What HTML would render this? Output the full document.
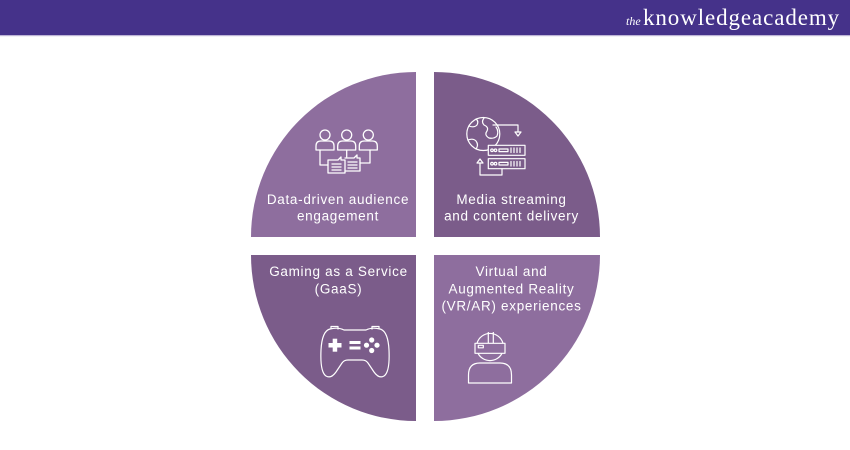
<!DOCTYPE html>
<html>
<head>
<meta charset="utf-8">
<style>
html,body{margin:0;padding:0;background:#fff;}
body{width:850px;height:450px;overflow:hidden;position:relative;font-family:"Liberation Sans",sans-serif;}
svg{position:absolute;left:0;top:0;}
</style>
</head>
<body>
<svg width="850" height="450" viewBox="0 0 850 450" xmlns="http://www.w3.org/2000/svg">
  <!-- header -->
  <rect x="0" y="0" width="850" height="35" fill="#45328a"/>
  <rect x="0" y="35" width="850" height="1.2" fill="#bdb4d6"/>
  <text x="626" y="25" font-family="Liberation Serif, serif" font-style="italic" font-size="12" fill="#fff">the</text>
  <text x="643" y="25" font-family="Liberation Serif, serif" font-size="23" letter-spacing="0.9" fill="#fff">knowledgeacademy</text>

  <!-- quadrants -->
  <path d="M416,237 L251,237 A165,165 0 0 1 416,72 Z" fill="#8e6e9e"/>
  <path d="M434,237 L434,72 A166,165 0 0 1 600,237 Z" fill="#7b5c8a"/>
  <path d="M416,255 L416,421 A165,166 0 0 1 251,255 Z" fill="#7b5c8a"/>
  <path d="M434,255 L600,255 A166,166 0 0 1 434,421 Z" fill="#8e6e9e"/>

  <!-- labels -->
  <g font-family="Liberation Sans, sans-serif" font-size="13.5" letter-spacing="0.7" fill="#fff" text-anchor="middle">
    <text x="338" y="204">Data-driven audience</text>
    <text x="338" y="220.5">engagement</text>
    <text x="511.5" y="204">Media streaming</text>
    <text x="511.5" y="220.5">and content delivery</text>
    <text x="338.5" y="276">Gaming as a Service</text>
    <text x="338.5" y="293.3">(GaaS)</text>
    <text x="511.5" y="276">Virtual and</text>
    <text x="511.5" y="293.3">Augmented Reality</text>
    <text x="511.5" y="310.7">(VR/AR) experiences</text>
  </g>

  <!-- TL icon: people with chat -->
  <g fill="none" stroke="#fff" stroke-width="1.3" stroke-linejoin="round" stroke-linecap="round">
    <circle cx="325" cy="135" r="5"/>
    <path d="M316,150 L316,146 Q316,141 321,141 L329,141 Q334,141 334,146 L334,150 Z"/>
    <circle cx="346.7" cy="135" r="5"/>
    <path d="M337.7,150 L337.7,146 Q337.7,141 342.7,141 L350.7,141 Q355.7,141 355.7,146 L355.7,150 Z"/>
    <circle cx="368.3" cy="135" r="5"/>
    <path d="M359.3,150 L359.3,146 Q359.3,141 364.3,141 L372.3,141 Q377.3,141 377.3,146 L377.3,150 Z"/>
    <path d="M320,150 L320,165 L328,165"/>
    <path d="M370,150 L370,163 L360,163"/>
    <path d="M346.7,150 L346.7,157"/>
    <path d="M328,160 L338,160 L341,157 L341,160 L345,160 L345,173 L328,173 Z"/>
    <path d="M332,164 L341,164 M332,167 L341,167 M332,170 L341,170"/>
    <path d="M345,158 L354,158 L357,155 L357,158 L360,158 L360,171 L345,171"/>
    <path d="M348,162 L357,162 M348,165 L357,165 M348,168 L357,168"/>
  </g>

  <!-- TR icon: globe + servers -->
  <g fill="none" stroke="#fff" stroke-width="1.2" stroke-linejoin="round" stroke-linecap="round">
    <circle cx="483.3" cy="134" r="16.5"/>
    <path d="M469,126 Q474,128 477,125 Q479,121 476,119"/>
    <path d="M468,140 Q473,138 476,141 Q479,145 476,149"/>
    <path d="M484,118 Q481,122 484,125 Q489,127 487,131 Q484,135 489,138 Q494,139 497,136 Q499,131 496,127"/>
    <path d="M493,125 L518,125 L518,132"/>
    <path d="M515,132 L521,132 L518,136 Z"/>
    <rect x="488.3" y="145.3" width="36.7" height="10" fill="#7b5c8a"/>
    <rect x="488.3" y="158.7" width="36.7" height="10" fill="#7b5c8a"/>
    <circle cx="492" cy="150.3" r="1.3"/>
    <circle cx="495.5" cy="150.3" r="1.3"/>
    <rect x="499" y="149" width="9" height="2.6"/>
    <path d="M511,148 L511,152.5 M514,148 L514,152.5 M517,148 L517,152.5 M520,148 L520,152.5"/>
    <circle cx="492" cy="163.7" r="1.3"/>
    <circle cx="495.5" cy="163.7" r="1.3"/>
    <rect x="499" y="162.4" width="9" height="2.6"/>
    <path d="M511,161.5 L511,166 M514,161.5 L514,166 M517,161.5 L517,166 M520,161.5 L520,166"/>
    <path d="M502,168.7 L502,175 L480,175 L480,163"/>
    <path d="M477,163 L483,163 L480,159 Z"/>
  </g>

  <!-- BL icon: gamepad -->
  <g fill="none" stroke="#fff" stroke-width="1.2" stroke-linejoin="round">
    <path d="M330,329 Q322,331 321,350 Q320,372 326,376 Q331,379 336,372 L342,363 Q344,360 348,360 L362,360 Q366,360 368,363 L374,372 Q379,379 384,376 Q390,372 389,350 Q388,331 380,329 Q372,327 366,330 L344,330 Q338,327 330,329 Z"/>
    <path d="M331,328.5 L331,326.5 L338,326.5 L338,329.5"/>
    <path d="M372,329.5 L372,326.5 L379,326.5 L379,328.5"/>
  </g>
  <g fill="#fff">
    <rect x="328.5" y="343" width="13" height="4.5"/>
    <rect x="332.7" y="338.7" width="4.5" height="13"/>
    <rect x="349.5" y="341" width="11" height="3"/>
    <rect x="349.5" y="346.5" width="11" height="3"/>
    <circle cx="371.7" cy="340" r="2.6"/>
    <circle cx="371.7" cy="350.5" r="2.6"/>
    <circle cx="366.5" cy="345.2" r="2.6"/>
    <circle cx="377" cy="345.2" r="2.6"/>
  </g>

  <!-- BR icon: VR person -->
  <g fill="none" stroke="#fff" stroke-width="1.2" stroke-linejoin="round">
    <path d="M477,343.3 A13.5,13.5 0 0 1 503,343.3"/>
    <path d="M478,353.3 A13.5,13.5 0 0 0 502,353.3"/>
    <rect x="475" y="343.3" width="30" height="10"/>
    <rect x="478.3" y="345.3" width="5" height="2.5"/>
    <path d="M488.3,332 L488.3,343.3 M493.3,332 L493.3,343.3"/>
    <path d="M468.5,383 L468.5,375 Q468.5,363 480,363 L500,363 Q511.5,363 511.5,375 L511.5,383 Z"/>
  </g>
</svg>
</body>
</html>
